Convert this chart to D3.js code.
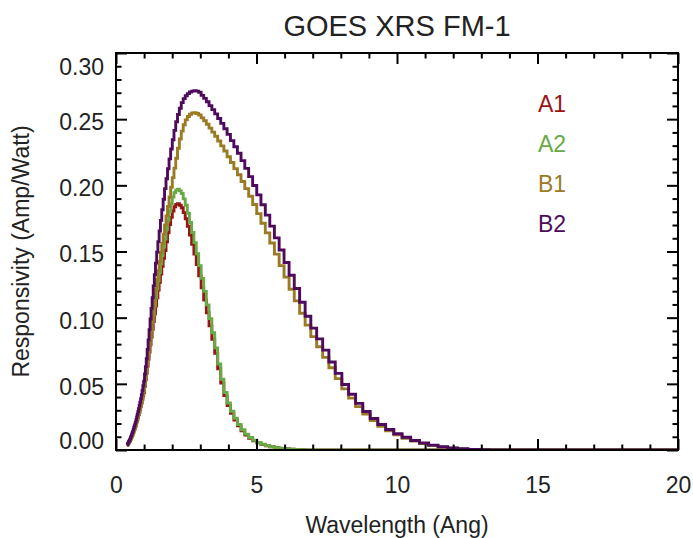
<!DOCTYPE html>
<html>
<head>
<meta charset="utf-8">
<script src="https://cdn.jsdelivr.net/npm/d3@7"></script>
<style>
  body { margin: 0; background: #fff; }
  text { font-family: "Liberation Sans", Arial, Helvetica, sans-serif; }
</style>
</head>
<body>
<div id="chart"></div>
<script>
// Responsivity per wavelength bin; bins are log-spaced: 0.40 Ang * 1.03^k
const wlStart = 0.4;
const wlRatio = 1.03;

const seriesNames = ["A1", "A2", "B1", "B2"];
const seriesColors = ["#9a1414", "#68aa46", "#9a7b24", "#4e0b5e"];

const respA1 = [
  0.0034, 0.0038, 0.0042, 0.0046, 0.0051, 0.0056, 0.0060, 0.0065, 0.0072, 0.0079,
  0.0088, 0.0095, 0.0104, 0.0112, 0.0122, 0.0132, 0.0145, 0.0156, 0.0167, 0.0180,
  0.0195, 0.0213, 0.0230, 0.0247, 0.0266, 0.0285, 0.0307, 0.0330, 0.0354, 0.0383,
  0.0409, 0.0435, 0.0482, 0.0530, 0.0580, 0.0632, 0.0685, 0.0740, 0.0797, 0.0853,
  0.0912, 0.0970, 0.1027, 0.1088, 0.1150, 0.1208, 0.1267, 0.1330, 0.1389, 0.1449,
  0.1507, 0.1573, 0.1641, 0.1703, 0.1758, 0.1806, 0.1838, 0.1856, 0.1862, 0.1850,
  0.1831, 0.1794, 0.1748, 0.1691, 0.1625, 0.1554, 0.1481, 0.1401, 0.1316, 0.1226,
  0.1133, 0.1037, 0.0938, 0.0837, 0.0730, 0.0614, 0.0506, 0.0411, 0.0335, 0.0277,
  0.0227, 0.0182, 0.0145, 0.0113, 0.0089, 0.0070, 0.0054, 0.0041, 0.0031, 0.0024,
  0.0017, 0.0012, 0.0009, 0.0006, 0.0004, 0.0002, 0.0001, 0, 0, 0,
  0, 0, 0, 0, 0, 0, 0, 0, 0, 0,
  0, 0, 0, 0, 0, 0, 0, 0, 0, 0,
  0, 0
];

const respA2 = [
  0.0036, 0.0040, 0.0044, 0.0049, 0.0054, 0.0059, 0.0064, 0.0069, 0.0076, 0.0084,
  0.0093, 0.0101, 0.0110, 0.0119, 0.0129, 0.0140, 0.0153, 0.0165, 0.0177, 0.0190,
  0.0206, 0.0225, 0.0243, 0.0261, 0.0281, 0.0302, 0.0325, 0.0349, 0.0375, 0.0405,
  0.0433, 0.0460, 0.0510, 0.0561, 0.0614, 0.0669, 0.0725, 0.0783, 0.0843, 0.0903,
  0.0965, 0.1026, 0.1087, 0.1151, 0.1217, 0.1278, 0.1341, 0.1407, 0.1470, 0.1533,
  0.1595, 0.1665, 0.1737, 0.1802, 0.1860, 0.1911, 0.1945, 0.1964, 0.1970, 0.1958,
  0.1938, 0.1898, 0.1850, 0.1789, 0.1719, 0.1644, 0.1567, 0.1483, 0.1393, 0.1297,
  0.1199, 0.1097, 0.0993, 0.0886, 0.0772, 0.0650, 0.0535, 0.0435, 0.0355, 0.0293,
  0.0240, 0.0193, 0.0153, 0.0120, 0.0094, 0.0074, 0.0057, 0.0043, 0.0033, 0.0025,
  0.0018, 0.0013, 0.0009, 0.0006, 0.0004, 0.0002, 0.0001, 0, 0, 0,
  0, 0, 0, 0, 0, 0, 0, 0, 0, 0,
  0, 0, 0, 0, 0, 0, 0, 0, 0, 0,
  0, 0
];

const respB1 = [
  0.0034, 0.0038, 0.0042, 0.0046, 0.0052, 0.0057, 0.0061, 0.0066, 0.0072, 0.0080,
  0.0089, 0.0096, 0.0105, 0.0114, 0.0123, 0.0134, 0.0146, 0.0157, 0.0169, 0.0181,
  0.0197, 0.0215, 0.0232, 0.0249, 0.0268, 0.0289, 0.0310, 0.0334, 0.0359, 0.0387,
  0.0417, 0.0447, 0.0494, 0.0542, 0.0593, 0.0654, 0.0716, 0.0783, 0.0851, 0.0920,
  0.0989, 0.1066, 0.1140, 0.1214, 0.1286, 0.1355, 0.1423, 0.1492, 0.1561, 0.1630,
  0.1699, 0.1768, 0.1840, 0.1912, 0.1985, 0.2058, 0.2130, 0.2205, 0.2280, 0.2350,
  0.2410, 0.2458, 0.2495, 0.2520, 0.2537, 0.2547, 0.2548, 0.2543, 0.2532, 0.2510,
  0.2488, 0.2462, 0.2432, 0.2402, 0.2371, 0.2335, 0.2298, 0.2259, 0.2216, 0.2172,
  0.2126, 0.2080, 0.2029, 0.1975, 0.1918, 0.1855, 0.1786, 0.1714, 0.1641, 0.1564,
  0.1480, 0.1393, 0.1306, 0.1215, 0.1127, 0.1033, 0.0944, 0.0857, 0.0780, 0.0700,
  0.0621, 0.0539, 0.0462, 0.0392, 0.0328, 0.0271, 0.0222, 0.0180, 0.0145, 0.0114,
  0.0089, 0.0067, 0.0049, 0.0034, 0.0022, 0.0014, 0.0008, 0.0005, 0.0003, 0.0001,
  0.0001, 0
];

const respB2 = [
  0.0040, 0.0044, 0.0049, 0.0054, 0.0060, 0.0066, 0.0071, 0.0077, 0.0084, 0.0093,
  0.0103, 0.0112, 0.0122, 0.0132, 0.0143, 0.0156, 0.0170, 0.0183, 0.0197, 0.0211,
  0.0229, 0.0250, 0.0270, 0.0290, 0.0312, 0.0336, 0.0361, 0.0388, 0.0417, 0.0450,
  0.0485, 0.0520, 0.0574, 0.0630, 0.0690, 0.0760, 0.0832, 0.0910, 0.0990, 0.1070,
  0.1150, 0.1240, 0.1325, 0.1412, 0.1495, 0.1575, 0.1655, 0.1735, 0.1815, 0.1895,
  0.1975, 0.2050, 0.2125, 0.2200, 0.2275, 0.2345, 0.2415, 0.2480, 0.2535, 0.2582,
  0.2625, 0.2655, 0.2677, 0.2693, 0.2705, 0.2712, 0.2715, 0.2712, 0.2703, 0.2680,
  0.2657, 0.2632, 0.2602, 0.2572, 0.2540, 0.2505, 0.2468, 0.2428, 0.2385, 0.2338,
  0.2291, 0.2243, 0.2187, 0.2128, 0.2066, 0.1999, 0.1928, 0.1853, 0.1775, 0.1692,
  0.1603, 0.1511, 0.1417, 0.1320, 0.1220, 0.1117, 0.1011, 0.0921, 0.0840, 0.0755,
  0.0665, 0.0579, 0.0495, 0.0421, 0.0352, 0.0291, 0.0238, 0.0193, 0.0155, 0.0123,
  0.0096, 0.0072, 0.0053, 0.0037, 0.0024, 0.0015, 0.0009, 0.0005, 0.0003, 0.0001,
  0.0001, 0
];

const seriesValues = [respA1, respA2, respB1, respB2];

const xMajorTicks = [0, 5, 10, 15, 20];
const yMajorTicks = [0, 0.05, 0.10, 0.15, 0.20, 0.25, 0.30];

// Set up dimensions
const totalWidth = 693, totalHeight = 538;
const margin = {top: 53, right: 15, bottom: 88, left: 116};
const width = totalWidth - margin.left - margin.right;
const height = totalHeight - margin.top - margin.bottom;

const svg = d3.select("#chart")
    .append("svg")
    .attr("width", totalWidth)
    .attr("height", totalHeight);

svg.append("rect")
    .attr("width", totalWidth)
    .attr("height", totalHeight)
    .attr("fill", "#fff");

const g = svg.append("g")
    .attr("transform", `translate(${margin.left},${margin.top})`);

// Scales
const x = d3.scaleLinear().domain([0, 20]).range([0, width]);
const y = d3.scaleLinear().domain([0, 0.30]).range([height, 0]);

g.append("clipPath")
    .attr("id", "plot-clip")
    .append("rect")
    .attr("x", 0).attr("y", -2)
    .attr("width", width).attr("height", height + 2);

// Step curves
const line = d3.line()
    .x(d => x(d.wl))
    .y(d => y(d.value))
    .curve(d3.curveStep);

seriesValues.forEach((vals, i) => {
    const pts = vals.map((v, k) => ({wl: wlStart * Math.pow(wlRatio, k), value: v}));
    // flat tail out to the end of the axis
    pts.push({wl: x.domain()[1], value: vals[vals.length - 1]});
    g.append("path")
        .datum(pts)
        .attr("clip-path", "url(#plot-clip)")
        .attr("fill", "none")
        .attr("stroke", seriesColors[i])
        .attr("stroke-width", 2.9)
        .attr("d", line);
});

// Axes: inward ticks on all four sides
const xMinor = d3.range(0, 21, 1).filter(v => v % 5 !== 0);
const yMinor = d3.range(0, 31, 1).filter(v => v % 5 !== 0).map(v => v / 100);

function styleAxis(sel) {
    sel.select(".domain").remove();
    sel.selectAll("line").attr("stroke", "#000").attr("stroke-width", 2);
}

g.append("g")
    .attr("transform", `translate(0,${height})`)
    .call(d3.axisBottom(x).tickValues(xMajorTicks).tickSize(-11).tickSizeOuter(0)
        .tickPadding(27).tickFormat(d3.format("d")))
    .call(styleAxis)
    .call(s => s.selectAll("text").attr("font-size", 23).attr("fill", "#222"));

g.append("g")
    .attr("transform", `translate(0,${height})`)
    .call(d3.axisBottom(x).tickValues(xMinor).tickSize(-5.5).tickFormat(""))
    .call(styleAxis);

g.append("g")
    .call(d3.axisTop(x).tickValues(xMajorTicks).tickSize(-11).tickFormat(""))
    .call(styleAxis);

g.append("g")
    .call(d3.axisTop(x).tickValues(xMinor).tickSize(-5.5).tickFormat(""))
    .call(styleAxis);

g.append("g")
    .call(d3.axisLeft(y).tickValues(yMajorTicks).tickSize(-11).tickSizeOuter(0)
        .tickPadding(12).tickFormat(d3.format(".2f")))
    .call(styleAxis)
    .call(s => s.selectAll("text")
        .attr("font-size", 23)
        .attr("fill", "#222")
        .attr("dy", d => d === 0 ? "-0.05em" : d === 0.30 ? "0.95em" : "0.45em"));

g.append("g")
    .call(d3.axisLeft(y).tickValues(yMinor).tickSize(-5.5).tickFormat(""))
    .call(styleAxis);

g.append("g")
    .attr("transform", `translate(${width},0)`)
    .call(d3.axisRight(y).tickValues(yMajorTicks).tickSize(-11).tickFormat(""))
    .call(styleAxis);

g.append("g")
    .attr("transform", `translate(${width},0)`)
    .call(d3.axisRight(y).tickValues(yMinor).tickSize(-5.5).tickFormat(""))
    .call(styleAxis);

// Frame
g.append("rect")
    .attr("width", width)
    .attr("height", height)
    .attr("fill", "none")
    .attr("stroke", "#000")
    .attr("stroke-width", 2);

// Titles
svg.append("text")
    .attr("x", margin.left + width / 2)
    .attr("y", 36)
    .attr("text-anchor", "middle")
    .attr("font-size", 29)
    .attr("fill", "#222")
    .text("GOES XRS FM-1");

svg.append("text")
    .attr("x", margin.left + width / 2)
    .attr("y", 533)
    .attr("text-anchor", "middle")
    .attr("font-size", 23)
    .attr("fill", "#222")
    .text("Wavelength (Ang)");

svg.append("text")
    .attr("transform", `translate(29,${margin.top + height / 2}) rotate(-90)`)
    .attr("text-anchor", "middle")
    .attr("font-size", 23)
    .attr("fill", "#222")
    .text("Responsivity (Amp/Watt)");

// Legend
svg.append("g")
    .selectAll("text")
    .data(seriesNames)
    .enter().append("text")
    .attr("x", 538)
    .attr("y", (d, i) => 112 + i * 40)
    .attr("font-size", 23)
    .attr("fill", (d, i) => seriesColors[i])
    .text(d => d);
</script>
</body>
</html>
